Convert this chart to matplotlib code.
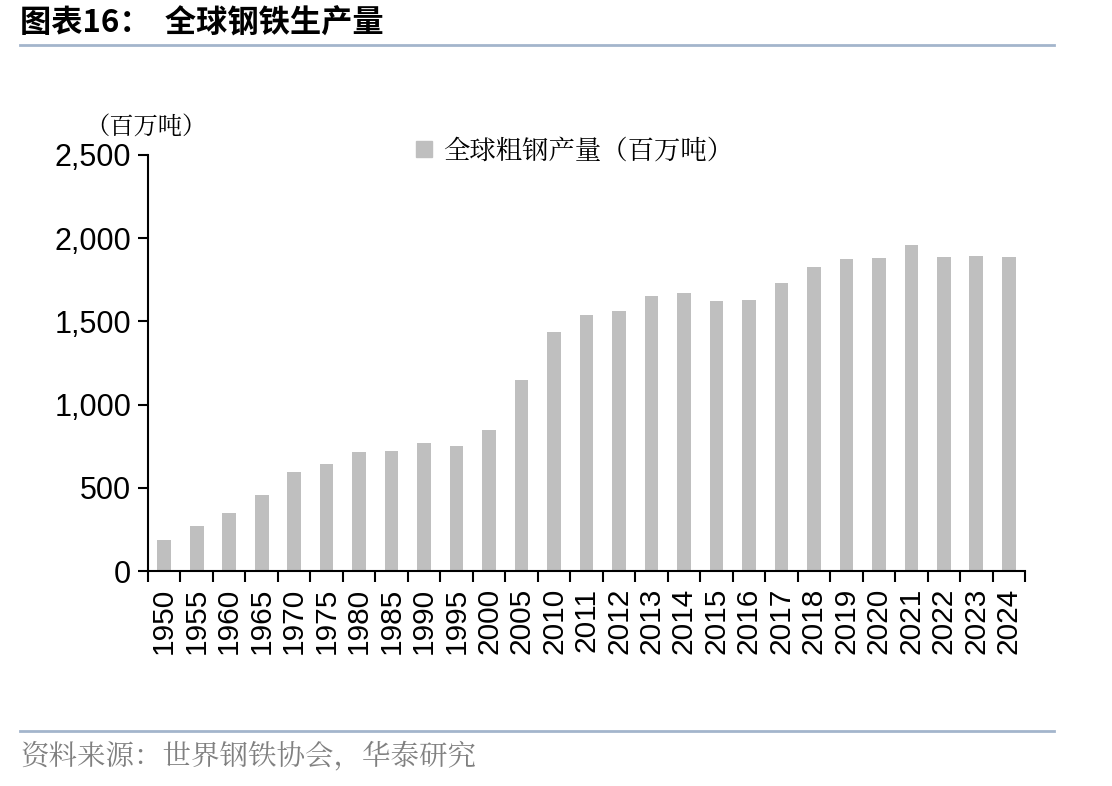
import numpy as np
import matplotlib.pyplot as plt
from matplotlib.ticker import FuncFormatter
from matplotlib.lines import Line2D

plt.rcParams['font.family'] = ['Noto Sans CJK SC', 'DejaVu Sans']

# 数据
years = ['1950', '1955', '1960', '1965', '1970', '1975', '1980', '1985', '1990', '1995',
         '2000', '2005', '2010', '2011', '2012', '2013', '2014', '2015', '2016', '2017',
         '2018', '2019', '2020', '2021', '2022', '2023', '2024']
output = [189, 270, 347, 456, 595, 644, 717, 719, 770, 753,
          850, 1148, 1435, 1538, 1561, 1650, 1670, 1621, 1628, 1730,
          1827, 1875, 1880, 1962, 1885, 1892, 1885]

fig = plt.figure(figsize=(11.12, 7.86), dpi=100)
ax = fig.add_axes([0.1331, 0.2735, 0.7887, 0.5293])

x = np.arange(len(years))
ax.bar(x, output, width=0.42, color='#bfbfbf')
ax.set_xlim(-0.5, len(years) - 0.5)
ax.set_ylim(0, 2500)
ax.set_yticks([0, 500, 1000, 1500, 2000, 2500])
ax.yaxis.set_major_formatter(FuncFormatter(lambda v, p: f'{int(v):,}'))
ax.set_xticks(x)
ax.set_xticklabels(years, rotation=90, fontfamily='Liberation Sans', fontsize=21.5)
for lab in ax.get_yticklabels():
    lab.set_fontfamily('Liberation Sans')
    lab.set_fontsize(22)
# 刻度在类目之间
ax.set_xticks(np.arange(len(years) + 1) - 0.5, minor=True)
ax.tick_params(axis='x', which='major', length=0, pad=12)
ax.tick_params(axis='x', which='minor', length=8, width=1.5, direction='out')
ax.tick_params(axis='y', length=7, width=1.5, direction='out', pad=5)
for s in ['top', 'right']:
    ax.spines[s].set_visible(False)
ax.spines['left'].set_linewidth(1.5)
ax.spines['bottom'].set_linewidth(1.5)

# 图例
h = Line2D([], [], marker='s', linestyle='none', color='#bfbfbf', markersize=11)
ax.legend([h], ['全球粗钢产量（百万吨）'], loc='upper left', bbox_to_anchor=(0.27, 1.1),
          frameon=False, handletextpad=0.1, handlelength=1.2,
          prop={'family': ['Noto Serif CJK SC', 'Noto Sans CJK SC'], 'size': 19})

fig.text(0.077, 0.83, '（百万吨）', fontsize=17.5, family=['Noto Serif CJK SC', 'Noto Sans CJK SC'])

# 标题和分割线
fig.text(0.018, 0.97, '图表16：  全球钢铁生产量', fontsize=22.5, fontweight='bold', va='center')
fig.add_artist(Line2D([0.018, 0.948], [0.943, 0.943], color='#a3b5cc', lw=2))
fig.add_artist(Line2D([0.018, 0.948], [0.07, 0.07], color='#a3b5cc', lw=2))
fig.text(0.018, 0.038, '资料来源：世界钢铁协会，华泰研究', fontsize=20.5, color='#808080', va='center',
         family=['Noto Serif CJK SC', 'Noto Sans CJK SC'])

plt.savefig('out.png', dpi=100)
